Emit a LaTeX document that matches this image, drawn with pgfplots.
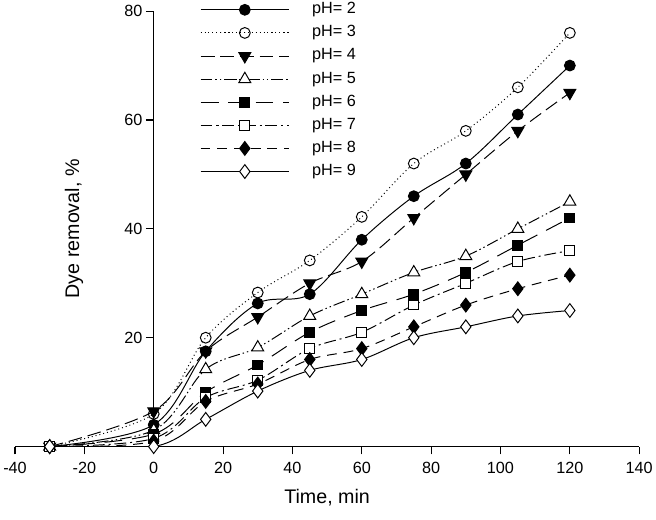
\documentclass[border=0pt]{standalone}
\usepackage{pgfplots}
\pgfplotsset{compat=1.18}
\usepackage{fontspec}
\setmainfont{Liberation Sans}
\begin{document}
\begin{tikzpicture}
\begin{axis}[
  scale only axis, width=635pt, height=443pt,
  xmin=-40, xmax=140, ymin=0, ymax=80,
  axis x line=bottom, axis y line=middle,
  axis line style={-, line width=1.1pt},
  every tick/.style={line width=1.1pt, black},
  tick align=outside, major tick length=8pt,
  xtick={-40,-20,...,140}, ytick={0,20,...,80},
  minor tick num=0,
  /pgf/number format/assume math mode=true,
  ticklabel style={font=\fontsize{16.5}{19}\selectfont},
  xticklabel style={yshift=-4pt},
  xlabel={Time, min}, ylabel={Dye removal, \%},
  xlabel style={font=\fontsize{20}{24}\selectfont, at={(axis description cs:0.5,-0.117)}, anchor=center},
  every axis y label/.style={at={(axis description cs:0.0945,0.5)}, rotate=90, anchor=center, font=\fontsize{20}{24}\selectfont},
  legend style={draw=none, fill=none, at={(axis description cs:0.2915,1.026)}, anchor=north west,
    font=\fontsize{16.5}{19}\selectfont, row sep=7.5pt, column sep=23pt,
    nodes={inner sep=0pt, text height=12pt, text depth=4pt}},
  legend cell align=left,
  legend image code/.code={\draw[mark repeat=2,mark phase=2] plot coordinates {(0pt,0pt) (45pt,0pt) (90pt,0pt)};},
  every axis plot/.append style={black, line width=1pt, smooth, tension=0.55},
]
\addplot[mark=*, mark size=5.5pt, mark options={solid, fill=black}] coordinates {(-30,0) (0,4) (15,17.5) (30,26.3) (45,28) (60,38) (75,46) (90,52) (105,61) (120,70)};
\addlegendentry{pH= 2}
\addplot[dash pattern=on 1pt off 3pt, mark=o, mark size=5.5pt, mark options={solid, fill=white}] coordinates {(-30,0) (0,6) (15,20) (30,28.3) (45,34.2) (60,42.2) (75,52) (90,58) (105,66) (120,76)};
\addlegendentry{pH= 3}
\addplot[dash pattern=on 14pt off 6pt, mark=triangle*, mark size=7pt, mark options={solid, fill=black, rotate=180}] coordinates {(-30,0) (0,6.5) (15,17.5) (30,23.8) (45,30) (60,34) (75,42) (90,50) (105,58) (120,65)};
\addlegendentry{pH= 4}
\addplot[dash pattern=on 12pt off 3pt on 1.5pt off 3pt on 1.5pt off 3pt, mark=triangle*, mark size=7pt, mark options={solid, fill=white}] coordinates {(-30,0) (0,3) (15,14.2) (30,18.2) (45,24) (60,28) (75,32) (90,35) (105,40) (120,45)};
\addlegendentry{pH= 5}
\addplot[dash pattern=on 18pt off 10pt, mark=square*, mark size=5pt, mark options={solid, fill=black}] coordinates {(-30,0) (0,2.3) (15,10) (30,15) (45,21) (60,25) (75,28) (90,32) (105,37) (120,42)};
\addlegendentry{pH= 6}
\addplot[dash pattern=on 12pt off 4pt on 2pt off 4pt, mark=square*, mark size=5pt, mark options={solid, fill=white}] coordinates {(-30,0) (0,1.5) (15,9) (30,12.2) (45,18) (60,21) (75,26) (90,30) (105,34) (120,36)};
\addlegendentry{pH= 7}
\addplot[dash pattern=on 10pt off 7pt, mark=diamond*, mark size=7pt, mark options={solid, fill=black}] coordinates {(-30,0) (0,1) (15,8.3) (30,11.5) (45,16) (60,18) (75,22) (90,26) (105,29) (120,31.5)};
\addlegendentry{pH= 8}
\addplot[mark=diamond*, mark size=7pt, mark options={solid, fill=white}] coordinates {(-30,0) (0,0) (15,5) (30,10.2) (45,14) (60,16) (75,20) (90,22) (105,24) (120,25)};
\addlegendentry{pH= 9}
\end{axis}
\path[use as bounding box] (-10pt,-74pt) rectangle (646pt,453pt);
\end{tikzpicture}
\end{document}
